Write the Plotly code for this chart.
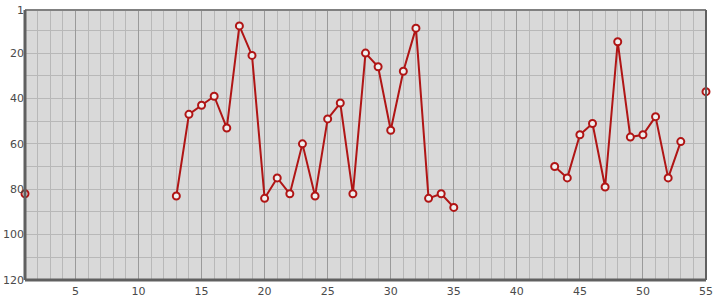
import plotly.graph_objects as go

rounds = list(range(1, 56))
positions = [82, None, None, None, None, None, None, None, None, None, None, None,
             83, 47, 43, 39, 53, 8, 21, 84, 75, 82, 60, 83, 49, 42, 82, 20, 26, 54,
             28, 9, 84, 82, 88, None, None, None, None, None, None, None,
             70, 75, 56, 51, 79, 15, 57, 56, 48, 75, 59, None, 37]
x_ticks = [5, 10, 15, 20, 25, 30, 35, 40, 45, 50, 55]
y_ticks = [1, 20, 40, 60, 80, 100, 120]

fig = go.Figure()
fig.add_trace(go.Scatter(
    x=rounds, y=positions, mode="lines+markers", connectgaps=False,
    line=dict(color="#b01515", width=2),
    marker=dict(symbol="circle", size=7, color="#f0f0f0",
                line=dict(color="#b01515", width=2)),
    hoverinfo="x+y", showlegend=False, cliponaxis=False,
))

fig.update_layout(
    width=715, height=300,
    margin=dict(l=25, r=9, t=10, b=20, autoexpand=False),
    paper_bgcolor="white", plot_bgcolor="#d9d9d9",
    font=dict(family="DejaVu Sans", size=11, color="#4a4a4a"),
    xaxis=dict(range=[1, 55], tickvals=x_ticks, ticks="", ticklen=0, automargin=False,
               ticklabelstandoff=3,
               showgrid=True, gridcolor="#9a9a9a", gridwidth=1,
               minor=dict(dtick=1, tick0=0, showgrid=True, gridcolor="#b8b8b8", gridwidth=1),
               zeroline=False, showline=False, fixedrange=True),
    yaxis=dict(range=[120, 1], tickvals=y_ticks, ticks="", ticklen=0, automargin=False,
               showgrid=False,
               minor=dict(dtick=10, tick0=0, showgrid=True, gridcolor="#b8b8b8", gridwidth=1),
               zeroline=False, showline=False, fixedrange=True),
    shapes=[
        dict(type="line", xref="paper", yref="paper", x0=0, x1=1, y0=1, y1=1,
             line=dict(color="#808080", width=2)),
        dict(type="line", xref="paper", yref="paper", x0=0, x1=0, y0=0, y1=1,
             line=dict(color="#606060", width=3)),
        dict(type="line", xref="paper", yref="paper", x0=0, x1=1, y0=0, y1=0,
             line=dict(color="#606060", width=3)),
        dict(type="line", xref="paper", yref="paper", x0=1, x1=1, y0=0, y1=1,
             line=dict(color="#606060", width=2)),
    ],
)

fig.write_html("out.html")
